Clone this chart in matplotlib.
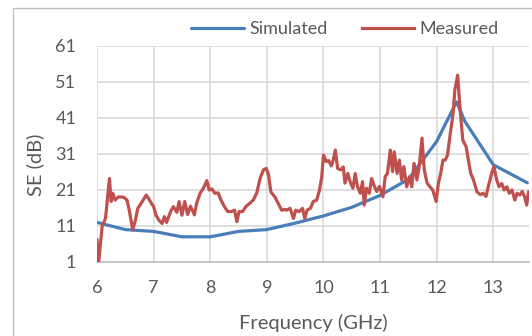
import matplotlib

matplotlib.use("Agg")
import matplotlib.pyplot as plt  # noqa: E402
from matplotlib.patches import Rectangle  # noqa: E402

# ---- datos ----
sim_f = [6.0, 6.5, 7.0, 7.5, 8.0, 8.5, 9.0, 9.5, 10.0, 10.5, 11.0, 11.5,
         12.0, 12.35, 12.5, 13.0, 13.6]
sim_se = [12.0, 10.0, 9.5, 8.0, 8.0, 9.5, 10.0, 11.8, 13.8, 16.2, 19.5, 24.0,
          34.5, 45.5, 40.0, 28.0, 23.0]

meas_f = [6.00, 6.03, 6.09, 6.15, 6.22, 6.25, 6.28, 6.32, 6.38, 6.47, 6.53, 6.57,
          6.63, 6.68, 6.72, 6.80, 6.87, 6.91, 6.96, 7.00, 7.04, 7.09, 7.15, 7.19,
          7.23, 7.30, 7.35, 7.41, 7.45, 7.50, 7.55, 7.60, 7.65, 7.72, 7.76, 7.82,
          7.88, 7.94, 7.98, 8.03, 8.08, 8.14, 8.19, 8.25, 8.31, 8.37, 8.43, 8.47,
          8.51, 8.57, 8.63, 8.69, 8.76, 8.82, 8.88, 8.94, 8.99, 9.03, 9.07, 9.14,
          9.20, 9.26, 9.32, 9.35, 9.41, 9.47, 9.51, 9.57, 9.63, 9.67, 9.71, 9.77,
          9.82, 9.88, 9.93, 9.97, 10.00, 10.05, 10.09, 10.14, 10.17, 10.21, 10.25,
          10.30, 10.35, 10.38, 10.43, 10.47, 10.52, 10.56, 10.60, 10.65, 10.69,
          10.72, 10.76, 10.81, 10.85, 10.90, 10.94, 10.99, 11.05, 11.09, 11.13,
          11.18, 11.22, 11.25, 11.30, 11.34, 11.38, 11.42, 11.47, 11.52, 11.56,
          11.60, 11.65, 11.69, 11.74, 11.78, 11.83, 11.88, 11.93, 11.99, 12.03,
          12.07, 12.11, 12.15, 12.19, 12.24, 12.29, 12.32, 12.37, 12.41, 12.46,
          12.52, 12.56, 12.60, 12.65, 12.71, 12.77, 12.82, 12.87, 12.91, 12.97,
          13.01, 13.06, 13.10, 13.15, 13.19, 13.24, 13.28, 13.33, 13.38, 13.42,
          13.47, 13.51, 13.55, 13.59, 13.62, 13.64]
meas_se = [7.1, 1.0, 10.8, 13.1, 24.2, 17.8, 20.1, 18.2, 19.1, 19.0, 18.2, 15.4,
           9.9, 12.7, 15.9, 17.8, 19.6, 18.7, 17.3, 16.4, 14.1, 12.7, 11.7, 13.6,
           12.0, 15.0, 16.4, 14.8, 17.8, 14.0, 17.8, 14.2, 16.5, 14.1, 17.3, 20.1,
           21.5, 23.6, 21.0, 21.3, 20.1, 20.2, 18.2, 16.4, 15.0, 15.0, 15.4, 12.2,
           15.0, 15.0, 16.4, 17.2, 18.2, 20.1, 24.2, 26.6, 27.0, 25.2, 20.5, 19.1,
           17.3, 15.4, 15.6, 15.4, 15.9, 13.1, 15.4, 15.0, 15.9, 13.1, 15.4, 15.9,
           17.8, 18.2, 21.0, 24.7, 30.7, 28.9, 29.2, 27.7, 29.2, 32.1, 27.0,
           26.6, 27.4, 22.9, 25.6, 23.3, 21.5, 25.6, 22.0, 20.1, 23.3,
           16.8, 21.5, 20.1, 24.2, 22.0, 20.6, 22.0, 19.1, 24.7, 25.6,
           32.1, 26.1, 31.6, 25.6, 29.3, 23.8, 27.5, 21.9, 24.7, 21.9,
           28.4, 23.8, 27.5, 35.4, 26.6, 22.9, 21.9, 21.0, 17.8, 22.9,
           25.6, 29.3, 29.3, 30.7, 36.7, 42.3, 48.8, 52.9, 44.1, 34.9,
           33.0, 29.3, 25.6, 23.8, 20.5, 19.7, 20.1, 19.2, 21.9, 25.6,
           27.5, 23.8, 21.9, 22.8, 21.0, 21.9, 20.1, 21.0, 18.2, 20.1,
           19.6, 20.6, 19.2, 16.8, 20.5, 20.5]

x_ticks = [6, 7, 8, 9, 10, 11, 12, 13]
y_ticks = [1, 11, 21, 31, 41, 51, 61]

AZUL = "#4a7ebb"
ROJO = "#c0504d"
TEXTO = "#595959"

plt.rcParams["font.family"] = ["Lato", "DejaVu Sans"]

fig = plt.figure(figsize=(5.32, 3.36), dpi=100)
ax = fig.add_axes([97 / 532, 1 - 262 / 336, 432 / 532, 216 / 336])

# borde del área del gráfico
fig.patches.append(Rectangle((13 / 532, -0.2), 1.2, 1.2 - 8 / 336,
                             transform=fig.transFigure, fill=False,
                             edgecolor="#bfbfbf", lw=1.0))

ax.plot(sim_f, sim_se, color=AZUL, lw=2.3, label="Simulated",
        solid_capstyle="round", solid_joinstyle="round", zorder=3)
ax.plot(meas_f, meas_se, color=ROJO, lw=2.3, label="Measured",
        solid_joinstyle="round", zorder=4)

ax.set_xlim(6, 13.63)
ax.set_ylim(1, 61)
ax.set_xticks(x_ticks)
ax.set_yticks(y_ticks)
ax.grid(True, color="#d9d9d9", lw=1.2)
ax.set_axisbelow(True)
for s in ["top", "right", "left"]:
    ax.spines[s].set_visible(False)
ax.spines["bottom"].set_color("#bfbfbf")
ax.spines["bottom"].set_linewidth(1.2)
ax.tick_params(length=0, labelsize=13, colors=TEXTO)
ax.tick_params(axis="y", pad=15)
ax.tick_params(axis="x", pad=13)

fig.text(35 / 532, 1 - 165 / 336, "SE (dB)", rotation=90, ha="center",
         va="center", fontsize=14.5, color=TEXTO)
fig.text(313 / 532, 1 - 323 / 336, "Frequency (GHz)", ha="center",
         va="center", fontsize=14.5, color=TEXTO)

fig.legend(loc="center", bbox_to_anchor=(345 / 532, 1 - 29 / 336), ncol=2,
           frameon=False, fontsize=13, labelcolor=TEXTO, handlelength=2.9,
           handletextpad=0.3, columnspacing=1.9)

fig.savefig("out.png", dpi=100)
